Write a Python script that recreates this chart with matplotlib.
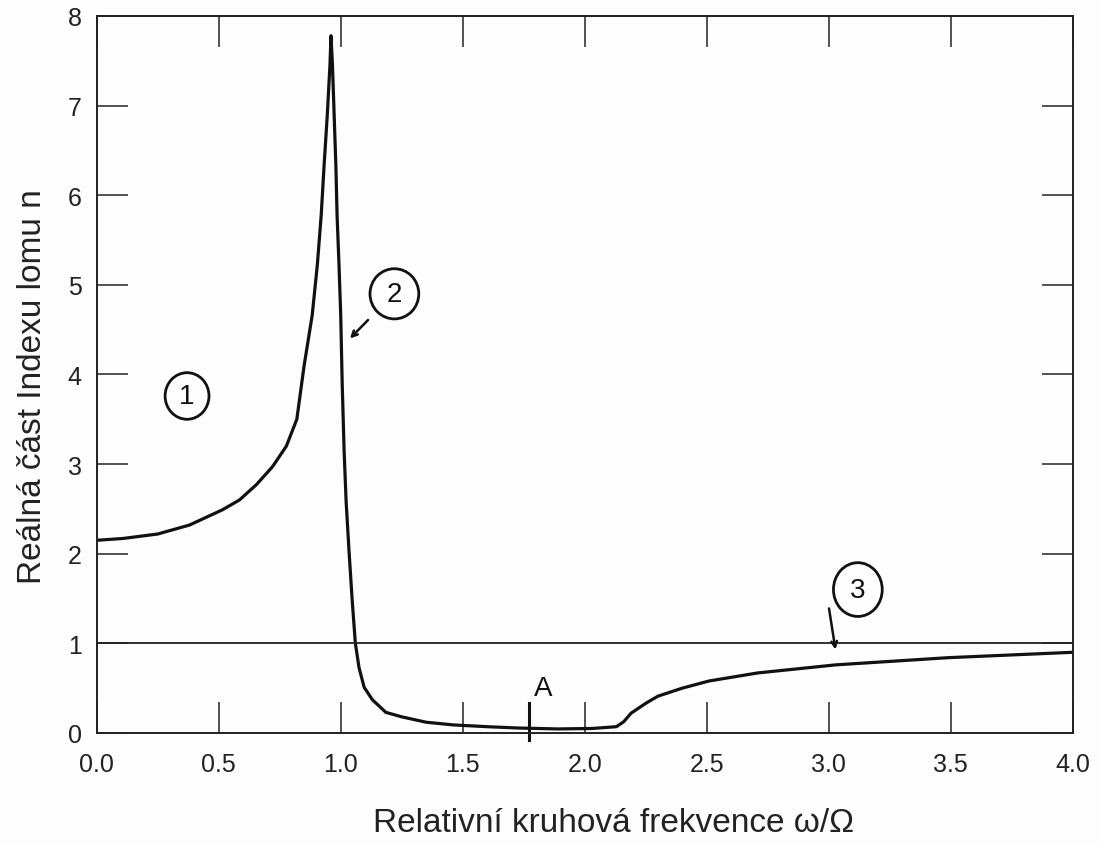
import matplotlib
matplotlib.use("Agg")
import matplotlib.pyplot as plt
from matplotlib.patches import Ellipse

# Data
omega = [0.0, 0.107, 0.25, 0.38, 0.515, 0.585, 0.654, 0.72, 0.777, 0.82,
         0.85, 0.883, 0.904, 0.92, 0.932, 0.945, 0.956, 0.96, 0.966, 0.973,
         0.98, 0.985, 0.993, 1.0, 1.006, 1.014, 1.022, 1.034, 1.047, 1.06,
         1.075, 1.096, 1.13, 1.185, 1.25, 1.35, 1.46, 1.6, 1.73, 1.89,
         2.03, 2.13, 2.16, 2.19, 2.25, 2.30, 2.40, 2.51, 2.71, 3.03,
         3.49, 4.0]
n_real = [2.15, 2.17, 2.22, 2.32, 2.49, 2.6, 2.77, 2.97, 3.2, 3.5,
          4.1, 4.66, 5.22, 5.78, 6.34, 6.9, 7.46, 7.78, 7.46, 6.9,
          6.34, 5.78, 5.22, 4.66, 3.9, 3.14, 2.59, 2.03, 1.48, 1.0,
          0.73, 0.51, 0.37, 0.23, 0.18, 0.12, 0.09, 0.07, 0.055, 0.045,
          0.05, 0.07, 0.125, 0.22, 0.33, 0.41, 0.5, 0.58, 0.67, 0.76,
          0.84, 0.9]
ref_level = 1.0

xticks = [0.0, 0.5, 1.0, 1.5, 2.0, 2.5, 3.0, 3.5, 4.0]
xticklabels = ["0.0", "0.5", "1.0", "1.5", "2.0", "2.5", "3.0", "3.5", "4.0"]
yticks = [0, 1, 2, 3, 4, 5, 6, 7, 8]

plt.rcParams['font.family'] = ['Liberation Sans', 'DejaVu Sans']

fig = plt.figure(figsize=(11, 8.45), dpi=100, facecolor='#fdfdfd')
ax = fig.add_axes([0.088, 0.1314, 0.887, 0.8485])
ax.set_facecolor('#fdfdfd')

ax.plot(omega, n_real, color='#111111', lw=2.3, solid_joinstyle='round')
ax.axhline(ref_level, color='#222222', lw=1.3)

ax.set_xlim(0, 4)
ax.set_ylim(0, 8)
ax.set_xticks(xticks)
ax.set_xticklabels(xticklabels)
ax.set_yticks(yticks)
ax.tick_params(direction='in', length=22, width=1.1, top=True, right=True,
               labelsize=18, colors='#222222')
ax.tick_params(axis='x', pad=14)
ax.tick_params(axis='y', pad=11)
for s in ax.spines.values():
    s.set_linewidth(1.4)
    s.set_color('#222222')

ax.set_xlabel("Relativní kruhová frekvence ω/Ω", fontsize=24, labelpad=22,
              color='#222222', x=0.53)
ax.set_ylabel("Reálná část Indexu lomu n", fontsize=24, labelpad=14,
              color='#222222', y=0.485)

# handwritten-style annotations
def circled(x, y, txt, w=0.18, h=0.52):
    ax.add_patch(Ellipse((x, y), w, h, fill=False, lw=2.0, color='#111111'))
    ax.text(x, y, txt, ha='center', va='center', fontsize=20, color='#111111')

circled(0.37, 3.76, "1")
circled(1.22, 4.9, "2", 0.2, 0.56)
circled(3.12, 1.6, "3", 0.2, 0.6)
ax.annotate("", xy=(1.03, 4.38), xytext=(1.12, 4.63),
            arrowprops=dict(arrowstyle='->', lw=1.8, color='#111111'))
ax.annotate("", xy=(3.03, 0.9), xytext=(3.0, 1.42),
            arrowprops=dict(arrowstyle='->', lw=1.8, color='#111111'))
ax.text(1.83, 0.5, "A", ha='center', va='center', fontsize=20, color='#111111')
ax.plot([1.77, 1.77], [0.33, -0.08], color='#111111', lw=2.2, clip_on=False)

fig.savefig("out.png", dpi=100, facecolor=fig.get_facecolor())
